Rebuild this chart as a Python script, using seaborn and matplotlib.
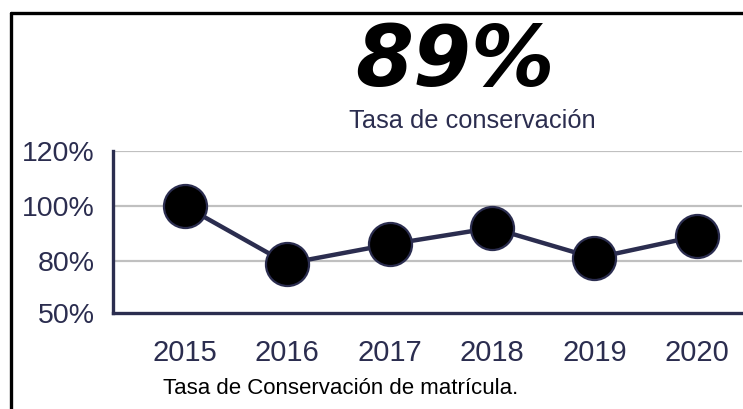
import numpy as np
import pandas as pd
import matplotlib.pyplot as plt
import seaborn as sns
from matplotlib.lines import Line2D

YEARS = ['2015', '2016', '2017', '2018', '2019', '2020']
RATES = [100, 79, 86, 92, 81, 89]
Y_TICKS = [61, 80, 100, 120]
Y_LABELS = ['50%', '80%', '100%', '120%']
HEADLINE = '89%'

NAVY = '#2b2d4f'


def main():
    sns.set_style('white')
    plt.rcParams['font.family'] = ['Liberation Sans', 'DejaVu Sans']

    df = pd.DataFrame({'pos': np.arange(len(YEARS)), 'rate': RATES})

    fig = plt.figure(figsize=(7.43, 4.09), dpi=100)
    ax = fig.add_axes([0.152, 0.2347, 0.8466, 0.396])

    sns.lineplot(data=df, x='pos', y='rate', ax=ax, color=NAVY, linewidth=3.2,
                 marker='o', markersize=31, markerfacecolor='black',
                 markeredgecolor=NAVY, markeredgewidth=1.6, clip_on=False, zorder=3)

    ax.set_xlim(-0.7, 5.44)
    ax.set_ylim(61, 120)
    ax.set_xticks(df['pos'])
    ax.set_xticklabels(YEARS)
    ax.set_yticks(Y_TICKS)
    ax.set_yticklabels(Y_LABELS)
    ax.tick_params(axis='x', length=0, pad=19, labelsize=21, labelcolor=NAVY)
    ax.tick_params(axis='y', length=0, pad=13, labelsize=20.5, labelcolor=NAVY)
    ax.set_xlabel('')
    ax.set_ylabel('')

    for v in Y_TICKS[1:]:
        ax.axhline(v, color='#c0c0c0', linewidth=1.6, zorder=1)

    for side in ['top', 'right']:
        ax.spines[side].set_visible(False)
    for side in ['left', 'bottom']:
        ax.spines[side].set_color(NAVY)
        ax.spines[side].set_linewidth(2.4)

    # headline and subtitle
    fig.text(0.612, 0.848, HEADLINE, ha='center', va='center', fontsize=60,
             fontweight='bold', style='italic', family=['DejaVu Sans'], color='black')
    fig.text(0.636, 0.705, 'Tasa de conservación', ha='center', va='center',
             fontsize=18.3, color=NAVY)
    fig.text(0.459, 0.049, 'Tasa de Conservación de matrícula.', ha='center',
             va='center', fontsize=16, color='black')

    # outer frame (top and left edges only)
    fig.add_artist(Line2D([0.0148, 1.0], [0.968, 0.968], color='black', linewidth=2.4))
    fig.add_artist(Line2D([0.0148, 0.0148], [0.968, 0.0], color='black', linewidth=2.4))

    fig.savefig('out.png', dpi=100)


if __name__ == '__main__':
    main()
